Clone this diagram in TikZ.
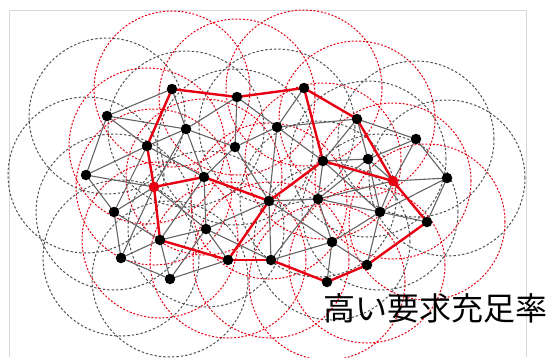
\documentclass[tikz,border=0pt]{standalone}
\usepackage{fontspec}
\newfontfamily\cjk{Noto Sans CJK JP}
\definecolor{myred}{RGB}{230,0,18}
\definecolor{circgray}{RGB}{80,80,80}
\definecolor{edgegray}{RGB}{100,100,100}
\definecolor{framecol}{RGB}{215,215,215}
\tikzset{
  dot/.style={circle,fill=black,inner sep=0pt,minimum size=10.5pt},
  rdot/.style={dot,fill=myred},
  gcirc/.style={draw=circgray,dash pattern=on 2.4pt off 2pt,line width=1pt},
  rcirc/.style={draw=myred,dash pattern=on 2pt off 1.7pt,line width=1pt},
  gedge/.style={draw=edgegray,line width=1.1pt},
  redge/.style={draw=myred,line width=2.4pt},
  lbl/.style={inner sep=0pt,font=\cjk\fontsize{32pt}{32pt}\selectfont}
}
\begin{document}
\begin{tikzpicture}[x=1pt,y=-1pt]
\useasboundingbox (0,0) rectangle (548,357);
\draw[framecol,line width=1pt] (9,357) -- (9,10) -- (526,10) -- (526,357);
% node positions
\path
 (172,89) coordinate (A)
 (237,97) coordinate (B)
 (107,116) coordinate (C)
 (186,129) coordinate (D)
 (147,146) coordinate (E)
 (86,175) coordinate (F)
 (235,147) coordinate (G)
 (204,177) coordinate (H)
 (304,88) coordinate (I)
 (277,127) coordinate (J)
 (357,119) coordinate (K)
 (416,139) coordinate (L)
 (323,161) coordinate (M)
 (368,159) coordinate (N)
 (447,178) coordinate (O)
 (393,181) coordinate (Z)
 (154,187) coordinate (P)
 (269,201) coordinate (R)
 (114,212) coordinate (S)
 (206,229) coordinate (T)
 (160,240) coordinate (U)
 (121,258) coordinate (V)
 (228,260) coordinate (W)
 (271,260) coordinate (X)
 (170,279) coordinate (Y)
 (318,199) coordinate (a)
 (380,212) coordinate (b)
 (427,222) coordinate (c)
 (332,242) coordinate (d)
 (367,265) coordinate (e)
 (327,282) coordinate (f);
% range circles
\foreach \n in {C,D,F,G,J,L,N,O,S,T,V,Y,a,b,d}
  \draw[gcirc] (\n) circle (78pt);
\foreach \n in {A,B,I,K,Z,M,E,P,H,R,U,W,X,c,e,f}
  \draw[rcirc] (\n) circle (78pt);
% gray links
\foreach \u/\v in {A/C,A/D,B/D,B/G,B/J,C/D,C/E,C/F,D/E,D/G,D/H,D/P,E/F,E/H,E/S,F/P,F/S,
  G/H,G/J,G/R,H/T,H/U,I/J,J/K,J/M,J/R,K/L,K/M,K/N,L/N,L/O,L/Z,M/N,M/a,M/b,N/Z,N/a,N/b,
  O/Z,O/c,O/b,Z/b,Z/a,P/S,P/T,P/V,R/T,R/X,R/a,R/d,S/U,S/V,T/U,T/W,T/X,T/Y,U/V,U/Y,V/Y,
  W/Y,X/a,X/d,a/b,a/d,b/c,b/d,b/e,d/e,d/f}
  \draw[gedge] (\u) -- (\v);
% red links
\foreach \u/\v in {A/B,B/I,I/K,K/Z,A/E,E/P,P/H,H/R,P/U,U/W,W/X,W/R,R/M,M/I,M/Z,Z/c,c/e,e/f,f/X}
  \draw[redge,line cap=round] (\u) -- (\v);
% nodes
\foreach \n in {A,B,C,D,E,F,G,H,I,J,K,L,M,N,O,R,S,T,U,V,W,X,Y,a,b,c,d,e,f}
  \node[dot] (n\n) at (\n) {};
\node[rdot] (nP) at (P) {};
\node[rdot] (nZ) at (Z) {};
\node[lbl] (title) at (435,308) {高い要求充足率};
\end{tikzpicture}
\end{document}
